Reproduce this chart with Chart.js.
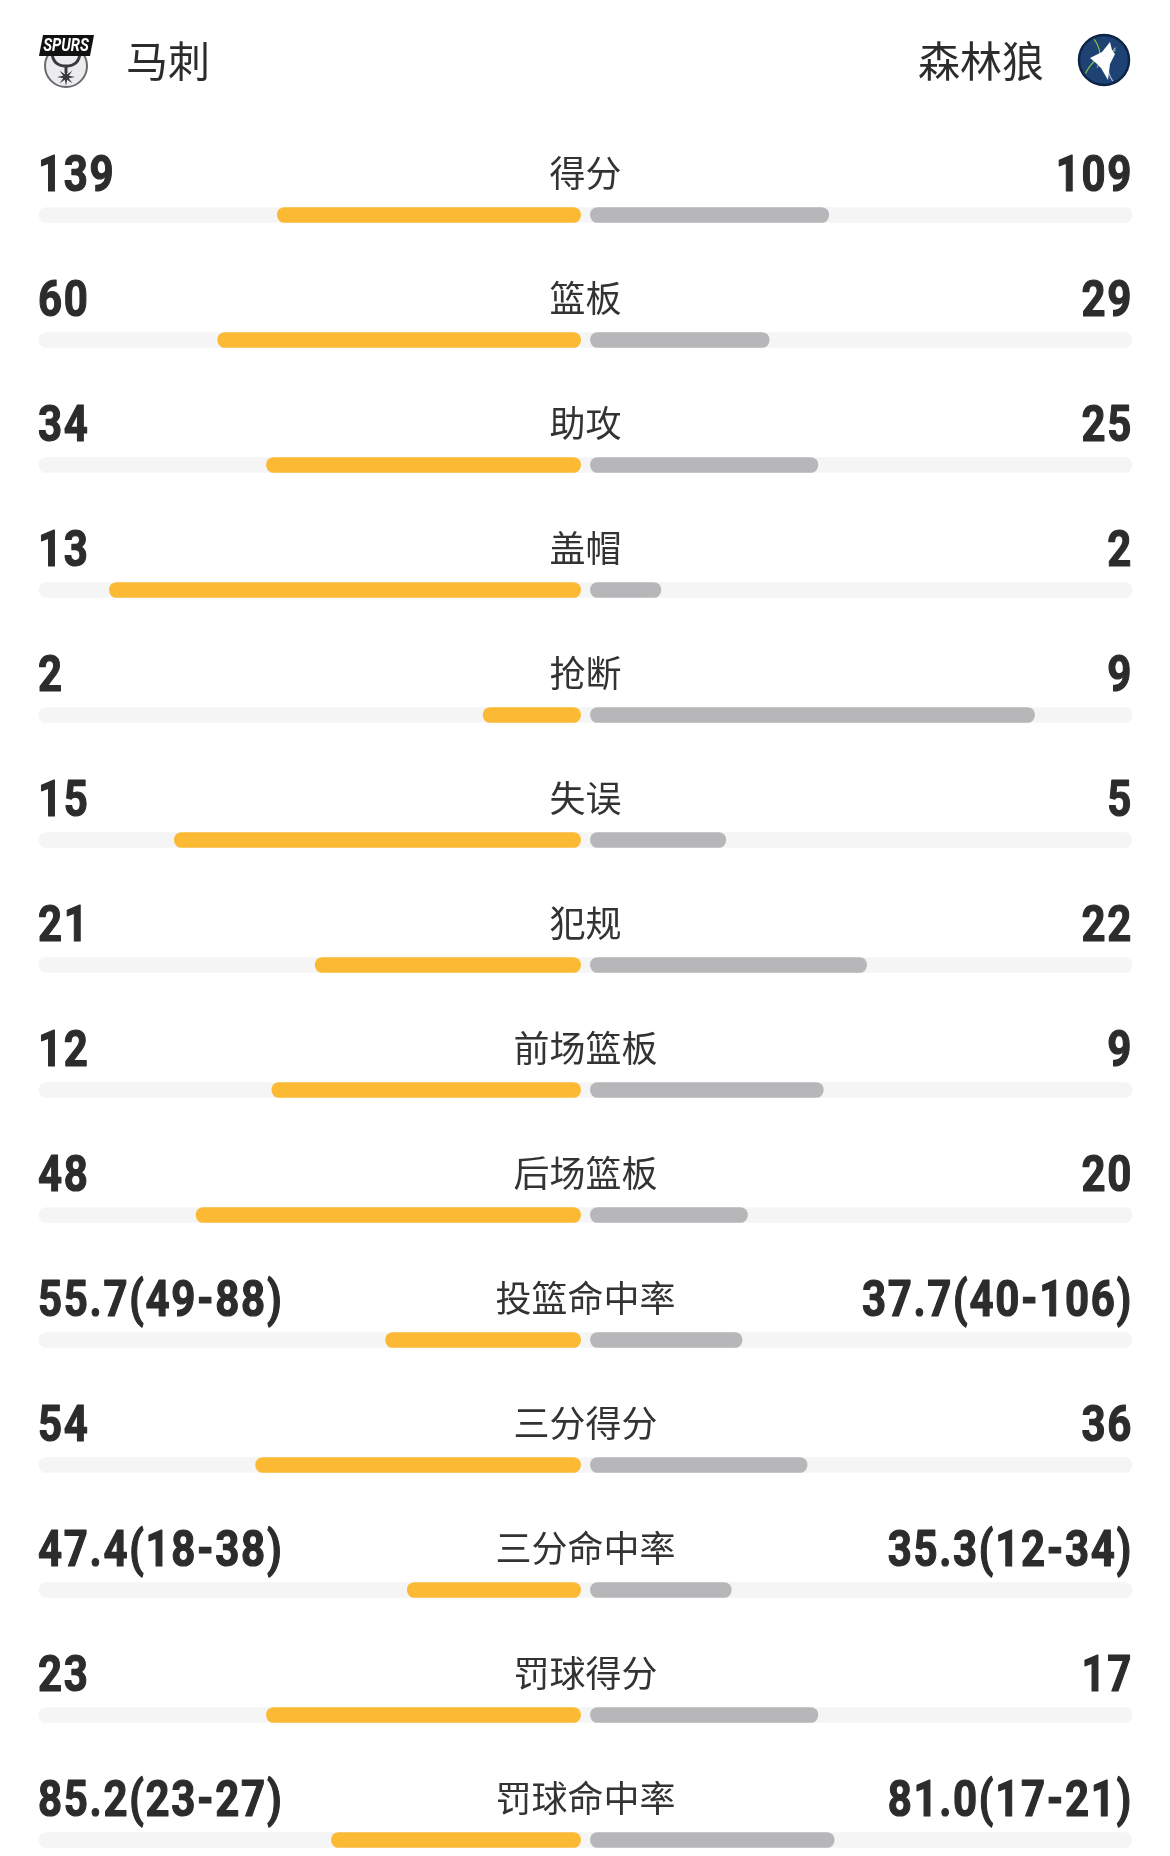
<!DOCTYPE html>
<html>
<head>
<meta charset="utf-8">
<script src="https://cdn.jsdelivr.net/npm/chart.js@4.4.1/dist/chart.umd.min.js"></script>
<style>
    html, body { margin: 0; padding: 0; background: #ffffff; }
    #chart-stats { display: block; }
</style>
</head>
<body>
<canvas id="chart-stats" width="1170" height="1856"></canvas>
<script>
// team names
const homeTeam = '马刺';
const awayTeam = '森林狼';

// stat rows, top to bottom
const statLabels = ['得分', '篮板', '助攻', '盖帽', '抢断', '失误', '犯规', '前场篮板', '后场篮板',
    '投篮命中率', '三分得分', '三分命中率', '罚球得分', '罚球命中率'];

// numbers printed at each side
const spursValues = ['139', '60', '34', '13', '2', '15', '21', '12', '48',
    '55.7(49-88)', '54', '47.4(18-38)', '23', '85.2(23-27)'];
const wolvesValues = ['109', '29', '25', '2', '9', '5', '22', '9', '20',
    '37.7(40-106)', '36', '35.3(12-34)', '17', '81.0(17-21)'];

// bar length as share of half the track
const spursBar = [0.56, 0.67, 0.58, 0.87, 0.18, 0.75, 0.49, 0.57, 0.71, 0.36, 0.60, 0.32, 0.58, 0.46];
const wolvesBar = [0.44, 0.33, 0.42, 0.13, 0.82, 0.25, 0.51, 0.43, 0.29, 0.28, 0.40, 0.26, 0.42, 0.45];

const GAP = 0.009;
const ORANGE = '#fbb934';
const GREY = '#b7b7b9';
const TRACK = '#f5f5f6';
const TEXT = '#2c2c2c';
const NUM_FONT = 'bold 50px Roboto, "DejaVu Sans", sans-serif';
const NUM_SQUEEZE = 0.84;

function drawSpursLogo(ctx, cx, cy) {
    ctx.save();
    // round badge
    ctx.beginPath();
    ctx.arc(cx, cy + 5, 21, 0, Math.PI * 2);
    ctx.fillStyle = '#ececee';
    ctx.fill();
    ctx.lineWidth = 2;
    ctx.strokeStyle = '#6a6a6e';
    ctx.stroke();
    // U shape under the wordmark
    ctx.beginPath();
    ctx.moveTo(cx - 14, cy - 8);
    ctx.quadraticCurveTo(cx - 13, cy + 5, cx, cy + 5);
    ctx.quadraticCurveTo(cx + 13, cy + 5, cx + 14, cy - 8);
    ctx.lineWidth = 3;
    ctx.strokeStyle = '#3a3a3e';
    ctx.stroke();
    ctx.beginPath();
    ctx.moveTo(cx, cy + 5);
    ctx.lineTo(cx, cy + 12);
    ctx.stroke();
    // spur star
    ctx.beginPath();
    for (let k = 0; k < 16; k++) {
        const r = k % 2 === 0 ? 9 : 3;
        const a = -Math.PI / 2 + k * Math.PI / 8;
        const px = cx + r * Math.cos(a);
        const py = cy + 16 + r * Math.sin(a);
        if (k === 0) ctx.moveTo(px, py); else ctx.lineTo(px, py);
    }
    ctx.closePath();
    ctx.fillStyle = '#3a3a3e';
    ctx.fill();
    // wordmark banner
    ctx.beginPath();
    ctx.moveTo(cx - 27, cy - 5);
    ctx.lineTo(cx - 23, cy - 26);
    ctx.lineTo(cx + 28, cy - 26);
    ctx.lineTo(cx + 24, cy - 5);
    ctx.closePath();
    ctx.fillStyle = '#111111';
    ctx.fill();
    ctx.fillStyle = '#ffffff';
    ctx.font = 'italic bold 19px Roboto, sans-serif';
    ctx.textAlign = 'center';
    ctx.textBaseline = 'middle';
    ctx.save();
    ctx.translate(cx, cy - 15);
    ctx.scale(0.78, 1);
    ctx.fillText('SPURS', 0, 0);
    ctx.restore();
    ctx.restore();
}

function drawWolvesLogo(ctx, cx, cy) {
    ctx.save();
    ctx.beginPath();
    ctx.arc(cx, cy, 25, 0, Math.PI * 2);
    ctx.fillStyle = '#1f4275';
    ctx.fill();
    ctx.lineWidth = 2.5;
    ctx.strokeStyle = '#0e2548';
    ctx.stroke();
    // ball seams
    ctx.save();
    ctx.beginPath();
    ctx.arc(cx, cy, 23, 0, Math.PI * 2);
    ctx.clip();
    ctx.lineWidth = 1.2;
    ctx.strokeStyle = '#7fc242';
    ctx.beginPath();
    ctx.arc(cx + 18, cy + 30, 40, Math.PI * 1.05, Math.PI * 1.45);
    ctx.stroke();
    ctx.beginPath();
    ctx.arc(cx - 30, cy - 4, 26, Math.PI * 1.7, Math.PI * 0.15);
    ctx.stroke();
    ctx.strokeStyle = '#9db6d8';
    ctx.beginPath();
    ctx.arc(cx + 30, cy + 6, 26, Math.PI * 0.8, Math.PI * 1.25);
    ctx.stroke();
    ctx.restore();
    // wolf head
    ctx.beginPath();
    ctx.moveTo(cx - 14, cy - 2);
    ctx.lineTo(cx - 2, cy - 8);
    ctx.lineTo(cx + 6, cy - 18);
    ctx.lineTo(cx + 8, cy - 10);
    ctx.lineTo(cx + 11, cy - 6);
    ctx.lineTo(cx + 6, cy + 4);
    ctx.lineTo(cx + 4, cy + 20);
    ctx.lineTo(cx - 3, cy + 8);
    ctx.lineTo(cx - 8, cy + 3);
    ctx.closePath();
    ctx.fillStyle = '#ffffff';
    ctx.fill();
    ctx.restore();
}

// condensed-looking numbers: squeeze a bold face horizontally
function drawNumber(ctx, text, x, y, align) {
    ctx.save();
    ctx.translate(x, y);
    ctx.scale(NUM_SQUEEZE, 1);
    ctx.font = NUM_FONT;
    ctx.letterSpacing = '2px';
    ctx.textAlign = align;
    ctx.textBaseline = 'alphabetic';
    ctx.fillStyle = TEXT;
    ctx.strokeStyle = TEXT;
    ctx.lineWidth = 1.2;
    ctx.lineJoin = 'round';
    ctx.fillText(text, 0, 0);
    ctx.strokeText(text, 0, 0);
    ctx.restore();
}

const textPlugin = {
    id: 'statText',
    afterDatasetsDraw(chart) {
        const ctx = chart.ctx;
        const yScale = chart.scales.y;
        const left = chart.chartArea.left;
        const right = chart.chartArea.right;
        const mid = chart.scales.x.getPixelForValue(0);

        ctx.save();
        // header
        ctx.fillStyle = TEXT;
        ctx.font = '42px "Noto Sans CJK SC", sans-serif';
        ctx.textBaseline = 'middle';
        ctx.textAlign = 'left';
        ctx.fillText(homeTeam, 126, 61);
        ctx.textAlign = 'right';
        ctx.fillText(awayTeam, 1044, 61);
        drawSpursLogo(ctx, 66, 61);
        drawWolvesLogo(ctx, 1104, 60);

        statLabels.forEach((label, i) => {
            const y = yScale.getPixelForValue(i);
            drawNumber(ctx, spursValues[i], left - 1, y - 24, 'left');
            drawNumber(ctx, wolvesValues[i], right + 1, y - 24, 'right');

            ctx.fillStyle = '#333333';
            ctx.font = '36px "Noto Sans CJK SC", sans-serif';
            ctx.textAlign = 'center';
            ctx.textBaseline = 'middle';
            ctx.fillText(label, mid, y - 42);
        });
        ctx.restore();
    }
};

const ctx = document.getElementById('chart-stats').getContext('2d');

new Chart(ctx, {
    type: 'bar',
    data: {
        labels: statLabels,
        datasets: [
            {
                label: homeTeam,
                data: spursBar.map(v => [-(GAP + v * (1 - GAP)), -GAP]),
                backgroundColor: ORANGE,
                order: 1
            },
            {
                label: awayTeam,
                data: wolvesBar.map(v => [GAP, GAP + v * (1 - GAP)]),
                backgroundColor: GREY,
                order: 1
            },
            {
                label: 'track',
                data: statLabels.map(() => [-1, 1]),
                backgroundColor: TRACK,
                order: 2
            }
        ]
    },
    options: {
        indexAxis: 'y',
        responsive: false,
        animation: false,
        devicePixelRatio: 1,
        datasets: {
            bar: {
                grouped: false,
                barThickness: 15,
                borderRadius: 8,
                borderSkipped: false,
                clip: false
            }
        },
        layout: {
            padding: { left: 39, right: 38, top: 215, bottom: 16 }
        },
        plugins: {
            legend: { display: false },
            tooltip: { enabled: false }
        },
        scales: {
            x: {
                type: 'linear',
                min: -1,
                max: 1,
                display: false
            },
            y: {
                type: 'category',
                offset: false,
                display: false
            }
        }
    },
    plugins: [textPlugin]
});
</script>
</body>
</html>
